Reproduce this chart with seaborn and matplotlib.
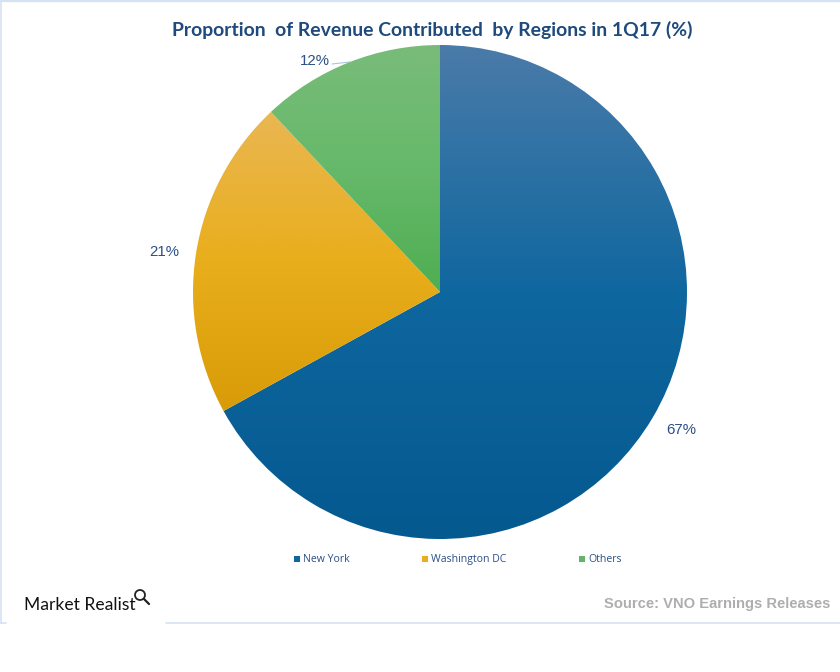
import numpy as np
import matplotlib
matplotlib.use("Agg")
import matplotlib.pyplot as plt
from matplotlib.colors import LinearSegmentedColormap
from matplotlib.patches import Rectangle
import seaborn as sns

# Revenue share by region
regions = ["New York", "Washington DC", "Others"]
shares = [67, 21, 12]
share_labels = ["67%", "21%", "12%"]

# top, middle, bottom shades of each slice
shades = [
    ["#4a7ba9", "#0f679f", "#04598f"],
    ["#e9b753", "#e9ae1c", "#d99c08"],
    ["#79bc7a", "#66b96a", "#4fae52"],
]
legend_colors = ["#0f679f", "#e9ae1c", "#62b566"]

sns.set_theme(style="white")
plt.rcParams["font.family"] = ["Liberation Sans", "DejaVu Sans"]

W, H = 840, 672
fig = plt.figure(figsize=(W / 100, H / 100), dpi=100)

# full figure overlay in pixel coords for texts and frame
bg = fig.add_axes([0, 0, 1, 1])
bg.set_xlim(0, W)
bg.set_ylim(H, 0)
bg.axis("off")

# pie centre 440,292 radius 247
cx, cy, r = 440, 292, 247
ax = fig.add_axes([(cx - r) / W, 1 - (cy + r) / H, 2 * r / W, 2 * r / H])
wedges, _ = ax.pie(shares, startangle=90, counterclock=False, radius=1,
                   wedgeprops={"linewidth": 0})

# gradient fill, clipped to each slice
for w, shade in zip(wedges, shades):
    x0, y0, x1, y1 = w.get_path().get_extents(w.get_transform() - ax.transData).extents
    cmap = LinearSegmentedColormap.from_list("s", shade)
    grad = np.linspace(0, 1, 256).reshape(-1, 1)
    w.set_facecolor("none")
    im = ax.imshow(grad, cmap=cmap, extent=[-1, 1, y0, y1], origin="upper",
                   aspect="auto", zorder=1)
    im.set_clip_path(w)
ax.set_xlim(-1, 1)
ax.set_ylim(-1, 1)
ax.set_aspect("equal")

bg.text(432.5, 29.5, "Proportion  of Revenue Contributed  by Regions in 1Q17 (%)",
        ha="center", va="center", fontsize=13.95, fontweight="bold",
        color="#1f4a7c", family=["Lato", "DejaVu Sans"])

# slice labels
label_pos = [(681, 430), (164, 252), (314.5, 61)]
for txt, (x, y) in zip(share_labels, label_pos):
    bg.text(x, y, txt, ha="center", va="center", fontsize=10.8, color="#2b4f86")
bg.plot([332, 350], [64, 62], color="#a9c4e4", lw=0.8)

# legend
legend_x = [294, 422, 579]
for name, col, x in zip(regions, legend_colors, legend_x):
    bg.add_patch(Rectangle((x, 556), 6, 6, color=col, lw=0))
    bg.text(x + 9, 562, name, ha="left", va="baseline", fontsize=7.6, color="#2b4f86",
            family=["Open Sans", "DejaVu Sans"])

bg.text(830, 604, "Source: VNO Earnings Releases", ha="right", va="center",
        fontsize=10.6, fontweight="bold", color="#aeaeae")
bg.text(24, 605, "Market Realist", ha="left", va="center", fontsize=12.6,
        color="#111111", family=["Lato", "DejaVu Sans"])

# little magnifier next to the logo
bg.add_patch(plt.Circle((140, 595), 5, fill=False, ec="#222222", lw=1.3))
bg.plot([144, 149], [599, 604], color="#222222", lw=1.6)

# light frame around the chart, open under the logo
frame = "#d5e2f3"
bg.plot([0.5, 0.5], [0, 623], color=frame, lw=1.2)
bg.plot([0, W], [0.8, 0.8], color=frame, lw=1.6)
bg.plot([0, 6], [623, 623], color=frame, lw=1.2)
bg.plot([166, W], [623, 623], color=frame, lw=1.2)

fig.savefig("out.png", dpi=100)
